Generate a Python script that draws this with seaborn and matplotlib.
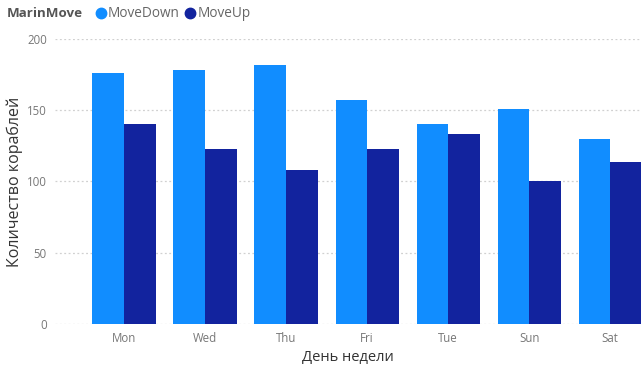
import matplotlib
matplotlib.use("Agg")
import matplotlib.pyplot as plt
from matplotlib.lines import Line2D
import seaborn as sns
import pandas as pd

days = ["Mon", "Wed", "Thu", "Fri", "Tue", "Sun", "Sat"]
move_down = [176, 178, 182, 157, 140, 151, 130]
move_up = [140, 123, 108, 123, 133, 100, 114]
series_names = ["MoveDown", "MoveUp"]
colors = ["#118DFF", "#12239E"]
y_ticks = [0, 50, 100, 150, 200]

df = pd.DataFrame({
    "day": days * 2,
    "value": move_down + move_up,
    "move": [series_names[0]] * len(days) + [series_names[1]] * len(days),
})

sns.set_theme(style="white")
plt.rcParams["font.family"] = ["Open Sans", "DejaVu Sans"]

fig = plt.figure(figsize=(6.41, 3.67), dpi=100)
ax = fig.add_axes([0.086, 0.117, 0.914, 0.777])

sns.barplot(data=df, x="day", y="value", hue="move", order=days,
            hue_order=series_names, palette=colors, width=0.78,
            saturation=1, ax=ax, legend=False, edgecolor="none")

ax.set_ylim(0, 200)
ax.set_xlim(-0.85, 6.38)
ax.set_yticks(y_ticks)
ax.set_yticklabels([str(t) for t in y_ticks])
for t in y_ticks:
    ax.axhline(t, color="#d0d0d0", linestyle=(0, (1.5, 2)), linewidth=0.9, zorder=0)
ax.set_axisbelow(True)

for s in ax.spines.values():
    s.set_visible(False)
ax.tick_params(axis="both", length=0, labelsize=8.3, labelcolor="#777777", pad=6)
ax.tick_params(axis="y", pad=6)

ax.set_xlabel("День недели", fontsize=10.5, color="#333333", labelpad=3)
ax.set_ylabel("Количество кораблей", fontsize=11.5, color="#333333", labelpad=3)

# legend row with title on the left
fig.text(0.011, 0.962, "MarinMove", fontsize=9.6, fontweight="bold",
         color="#555555", va="center", ha="left")
handles = [Line2D([0], [0], marker="o", linestyle="none", markersize=7.5,
                  markerfacecolor=c, markeredgecolor=c) for c in colors]
fig.legend(handles, series_names, loc="center left", bbox_to_anchor=(0.136, 0.962),
           ncol=2, frameon=False, fontsize=9.8, labelcolor="#666666",
           handletextpad=0.0, columnspacing=0.3, borderpad=0, handlelength=1.0)

fig.savefig("out.png", dpi=100)
